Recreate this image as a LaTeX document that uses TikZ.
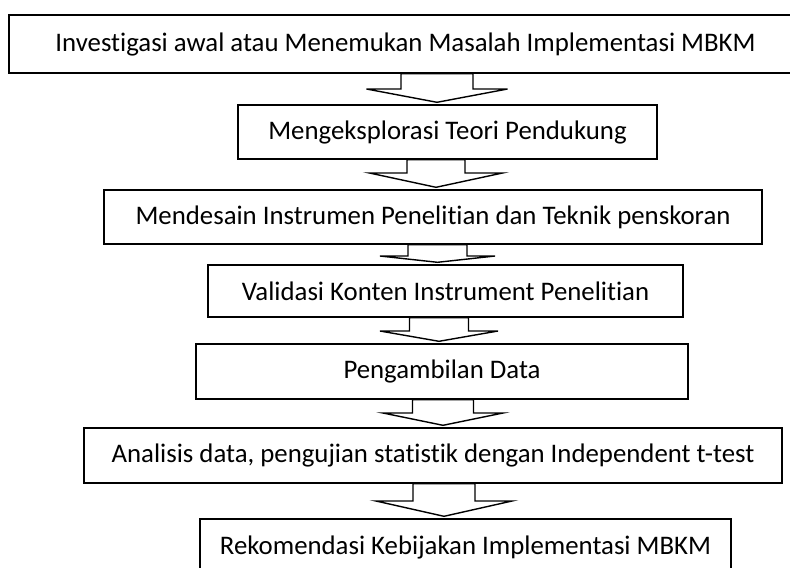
\documentclass[tikz,border=0pt]{standalone}
\usepackage{fontspec}
\setmainfont[Ligatures=NoCommon]{Carlito}
\usetikzlibrary{calc}

\tikzset{
	stepbox/.style={draw=black, rectangle, line width=0.7pt, inner sep=0pt, font=\fontsize{13.4}{16}\selectfont},
	flow/.style={draw=black, line width=0.7pt, line join=miter}
}
% block arrow: from, to, centre x, shaft half width, wing half width, wing y
\newcommand{\blockarrow}[6]{%
	\draw[flow] (#3-#4,0 |- #1.south) -- (#3-#4,#6) -- (#3-#5,#6)
		-- ($(#3,0 |- #2.north)+(0,-2)$) -- (#3+#5,#6) -- (#3+#4,#6)
		-- (#3+#4,0 |- #1.south) -- cycle;}

\begin{document}
\begin{tikzpicture}[x=0.5pt, y=-0.5pt]
		\def\px{0.5pt}
		\clip (0,0) rectangle (790,567);
		\node[stepbox, minimum width=793*\px, minimum height=58*\px] (b1) at (405.5,44) {Investigasi awal atau Menemukan Masalah Implementasi MBKM};
		\node[stepbox, minimum width=419*\px, minimum height=54*\px] (b2) at (447.5,132) {Mengeksplorasi Teori Pendukung};
		\node[stepbox, minimum width=658*\px, minimum height=54*\px] (b3) at (433,217) {Mendesain Instrumen Penelitian dan Teknik penskoran};
		\node[stepbox, minimum width=475*\px, minimum height=52*\px] (b4) at (445.5,291) {Validasi Konten Instrument Penelitian};
		\node[stepbox, minimum width=492*\px, minimum height=55*\px] (b5) at (442,371.5) {Pengambilan Data};
		\node[stepbox, minimum width=698*\px, minimum height=55*\px] (b6) at (433,455.5) {Analisis data, pengujian statistik dengan Independent t-test};
		\node[stepbox, minimum width=531*\px, minimum height=56*\px] (b7) at (465.5,547) {Rekomendasi Kebijakan Implementasi MBKM};
		\blockarrow{b1}{b2}{437}{36}{70.5}{89}
		\blockarrow{b2}{b3}{436}{29}{66.5}{173}
		\blockarrow{b3}{b4}{437.5}{29.5}{57.5}{256}
		\blockarrow{b4}{b5}{439}{29.5}{59}{331}
		\blockarrow{b5}{b6}{443}{30.5}{60}{413}
		\blockarrow{b6}{b7}{444}{31}{68}{501}
\end{tikzpicture}
\end{document}
